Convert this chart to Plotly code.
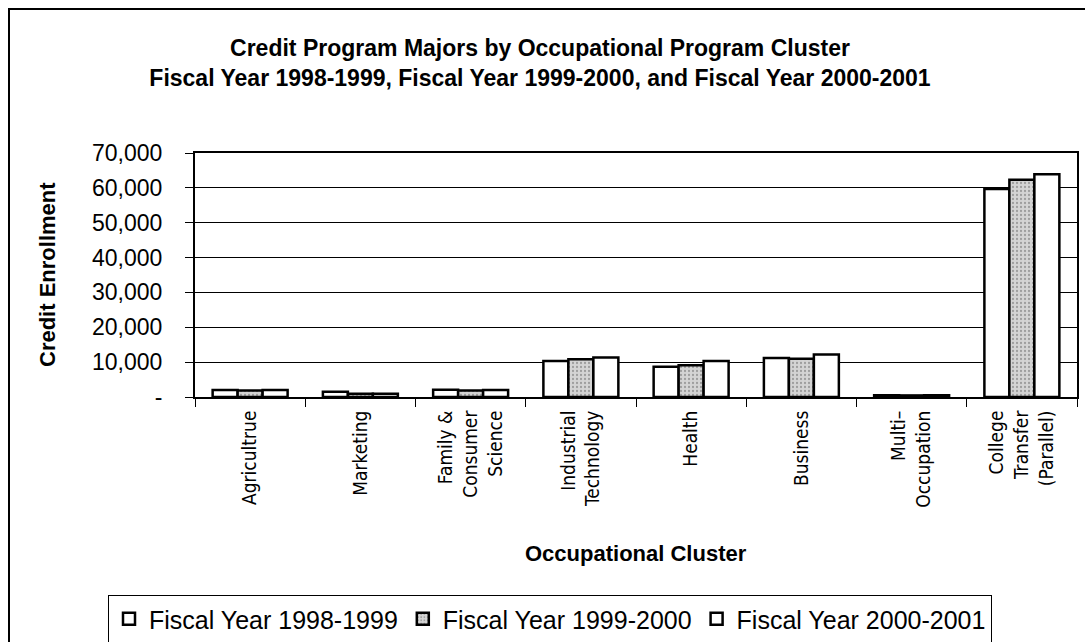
import plotly.graph_objects as go

categories = ["Agricultrue", "Marketing", "Family &<br>Consumer<br>Science",
              "Industrial<br>Technology", "Health", "Business",
              "Multi–<br>Occupation", "College<br>Transfer<br>(Parallel)"]
series_names = ["Fiscal Year 1998-1999", "Fiscal Year 1999-2000", "Fiscal Year 2000-2001"]
fy1999 = [2000, 1500, 2100, 10300, 8700, 11200, 500, 59700]
fy2000 = [1900, 900, 1900, 10800, 9100, 11000, 450, 62300]
fy2001 = [2000, 900, 2000, 11300, 10300, 12200, 500, 63900]
ytick_vals = [0, 10000, 20000, 30000, 40000, 50000, 60000, 70000]
ytick_text = ["-", "10,000", "20,000", "30,000", "40,000", "50,000", "60,000", "70,000"]

BASE = "Liberation Sans, Arial, sans-serif"
NARROW = "DejaVu Sans Condensed, Liberation Sans Narrow, sans-serif"

fig = go.Figure()
fig.add_trace(go.Bar(x=categories, y=fy1999, name=series_names[0],
                     marker=dict(color="white", line=dict(color="black", width=2.5))))
fig.add_trace(go.Bar(x=categories, y=fy2000, name=series_names[1],
                     marker=dict(color="#cfcfcf", line=dict(color="black", width=2.5),
                                 pattern=dict(shape=".", fgcolor="#666666", bgcolor="#d4d4d4",
                                              size=4, solidity=0.25))))
fig.add_trace(go.Bar(x=categories, y=fy2001, name=series_names[2],
                     marker=dict(color="white", line=dict(color="black", width=2.5))))

fig.update_layout(
    width=1085, height=642,
    margin=dict(l=195, r=8, t=153, b=245, autoexpand=False),
    paper_bgcolor="white", plot_bgcolor="white",
    barmode="group", bargap=0.32, bargroupgap=0,
    font=dict(family=BASE, color="black"),
    title=dict(text="<b>Credit Program Majors by Occupational Program Cluster<br>"
                    "Fiscal Year 1998-1999, Fiscal Year 1999-2000, and Fiscal Year 2000-2001</b>",
               x=0.4977, xanchor="center", y=1 - 56 / 642, yanchor="middle",
               font=dict(size=23, family=BASE)),
    showlegend=True,
    legend=dict(orientation="h", xref="container", yref="container",
                x=550 / 1085, xanchor="center", y=1 - 595 / 642, yanchor="top",
                bordercolor="black", borderwidth=1, font=dict(size=25),
                itemwidth=30, traceorder="normal"),
    xaxis=dict(showline=True, linecolor="black", linewidth=2, mirror=True,
               ticks="outside", tickson="boundaries", ticklen=8, tickcolor="black",
               tickangle=-90, automargin=False, ticklabelstandoff=4,
               tickfont=dict(size=19, family=NARROW),
               showgrid=False),
    yaxis=dict(range=[0, 70000], tickvals=ytick_vals, ticktext=ytick_text,
               showline=True, linecolor="black", linewidth=2, mirror=True,
               ticks="outside", ticklen=8, tickcolor="black", automargin=False,
               ticklabelstandoff=18,
               tickfont=dict(size=23),
               showgrid=True, gridcolor="black", gridwidth=1),
    annotations=[
        dict(text="<b>Credit Enrollment</b>", xref="paper", yref="paper",
             x=(47 - 195) / 882, y=(397 - 275) / 244, textangle=-90,
             showarrow=False, xanchor="center", yanchor="middle",
             font=dict(size=22, family=BASE)),
        dict(text="<b>Occupational Cluster</b>", xref="paper", yref="paper",
             x=(636 - 195) / 882, y=(397 - 553) / 244,
             showarrow=False, xanchor="center", yanchor="middle",
             font=dict(size=22, family=BASE)),
    ],
    shapes=[dict(type="rect", xref="paper", yref="paper",
                 x0=(9 - 195) / 882, y0=-1.2, x1=1.05, y1=(397 - 9) / 244,
                 line=dict(color="black", width=2), layer="below")],
)

fig.write_html("out.html", config={"displayModeBar": False},
               post_script="document.body.style.margin='0';document.body.style.padding='0';")
